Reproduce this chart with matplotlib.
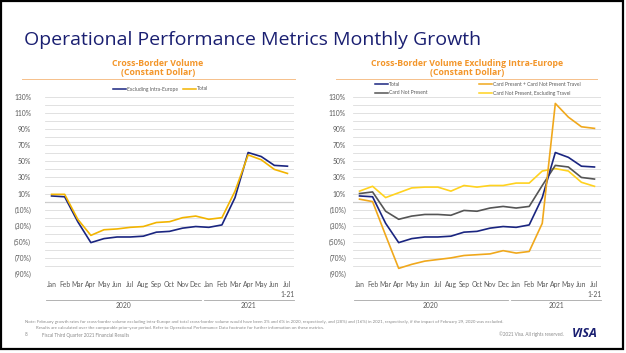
import numpy as np
import matplotlib
matplotlib.use('Agg')
import matplotlib.pyplot as plt
from matplotlib.lines import Line2D
from matplotlib.patches import Rectangle

plt.rcParams['font.family'] = ['Open Sans', 'DejaVu Sans']

# Datos (crecimiento mensual, %)
months = ['Jan', 'Feb', 'Mar', 'Apr', 'May', 'Jun', 'Jul', 'Aug', 'Sep', 'Oct', 'Nov', 'Dec',
          'Jan', 'Feb', 'Mar', 'Apr', 'May', 'Jun', 'Jul\n1-21']
years = ['2020', '2021']
left_excl_europe = [7, 6, -25, -51, -46, -44, -44, -43, -38, -37, -33, -31, -32, -29, 5, 61, 56, 45, 44]
left_total = [9, 9, -22, -42, -35, -34, -32, -31, -26, -25, -20, -18, -22, -20, 13, 58, 52, 40, 35]

right_total = [7, 6, -27, -51, -46, -44, -44, -43, -38, -37, -33, -31, -32, -29, 5, 61, 55, 44, 43]
right_cp_travel = [3, 0, -42, -83, -78, -74, -72, -70, -67, -66, -65, -61, -64, -62, -27, 122, 105, 93, 91]
right_cnp = [10, 12, -12, -22, -18, -16, -16, -17, -11, -12, -8, -6, -8, -6, 20, 45, 43, 30, 28]
right_cnp_ex_travel = [13, 19, 5, 11, 17, 18, 18, 13, 20, 18, 20, 20, 23, 23, 38, 41, 38, 24, 19]

NAVY = '#1a2580'
GOLD = '#f2b400'
ORANGE = '#f0a81c'
YELLOW = '#ffd21f'
GRAY = '#555555'
TITLE_ORANGE = '#f3962a'
TEXT = '#595959'
TICK_FONT = ['Lato', 'DejaVu Sans']

W, H = 626, 353
fig = plt.figure(figsize=(W / 100, H / 100), dpi=100)

def px(x, y):
    # pixel -> coordenadas de figura
    return x / W, 1 - y / H

# Titulo principal
fig.text(*px(24, 40), 'Operational Performance Metrics Monthly Growth', fontsize=14,
         color='#1a1f71', va='center', ha='left')

def setup_axes(x0, x1, ypad, title, title_cx, rule_x0, rule_x1, year_split):
    fx0, fy_top = px(x0, 97)
    fx1, fy_bot = px(x1, 274)
    ax = fig.add_axes([fx0, fy_bot, fx1 - fx0, fy_top - fy_bot])
    ax.set_xlim(-0.5, len(months) - 0.5)
    ax.set_ylim(-90, 130)
    ax.set_yticks(np.arange(-90, 131, 10))
    labels = []
    for v in np.arange(-90, 131, 10):
        if (v + 90) % 20 == 0:
            labels.append(f'({abs(v)}%)' if v < 0 else f'{v}%')
        else:
            labels.append('')
    ax.set_yticklabels(labels, family=TICK_FONT)
    ax.set_xticks(np.arange(len(months)))
    ax.set_xticklabels(months, linespacing=1.5, family=TICK_FONT)
    ax.tick_params(length=0, labelsize=4.9, labelcolor=TEXT)
    ax.tick_params(axis='x', pad=5)
    ax.tick_params(axis='y', pad=ypad)
    for s in ax.spines.values():
        s.set_visible(False)
    ax.grid(axis='y', color='#dcdcdc', linewidth=0.6)
    ax.axhline(0, color='#8c8c8c', linewidth=0.8, zorder=1)

    # subtitulo y regla naranja
    fig.text(*px(title_cx, 68), title, fontsize=6.3, fontweight='bold', color=TITLE_ORANGE,
             ha='center', va='center', linespacing=1.1)
    fig.add_artist(Line2D([rule_x0 / W, rule_x1 / W], [1 - 78.5 / H] * 2,
                          color='#f6c08a', linewidth=0.7))

    # agrupacion por anio
    trans = ax.get_xaxis_transform()
    spans = [(-0.45, year_split - 0.1), (year_split + 0.1, len(months) - 0.5)]
    for (a, b), yr in zip(spans, years):
        ax.plot([a, b], [-0.147, -0.147], transform=trans, color='#a6a6a6',
                linewidth=0.6, clip_on=False)
        ax.text((a + b) / 2, -0.178, yr, transform=trans, fontsize=4.9, color=TEXT,
                ha='center', va='center', family=TICK_FONT)
    return ax

def legend_entry(x, y, color, label):
    fig.add_artist(Line2D([x / W, (x + 13) / W], [1 - y / H] * 2, color=color, linewidth=1.1))
    fig.text((x + 14) / W, 1 - y / H, label, fontsize=3.6, color=TEXT, va='center', ha='left',
             family=TICK_FONT)

x = np.arange(len(months))

# Grafico izquierdo
ax1 = setup_axes(45, 294, 10, 'Cross-Border Volume\n(Constant Dollar)', 158, 22, 295, 11.5)
ax1.plot(x, left_excl_europe, color=NAVY, linewidth=1.2, zorder=3)
ax1.plot(x, left_total, color=GOLD, linewidth=1.2, zorder=3)
legend_entry(113, 89, NAVY, 'Excluding Intra-Europe')
legend_entry(183, 89, GOLD, 'Total')

# Grafico derecho
ax2 = setup_axes(353, 601, 5, 'Cross-Border Volume Excluding Intra-Europe\n(Constant Dollar)', 467, 336, 597, 11.5)
ax2.plot(x, right_cnp_ex_travel, color=YELLOW, linewidth=1.2, zorder=3)
ax2.plot(x, right_cnp, color=GRAY, linewidth=1.2, zorder=3)
ax2.plot(x, right_total, color=NAVY, linewidth=1.2, zorder=3)
ax2.plot(x, right_cp_travel, color=ORANGE, linewidth=1.2, zorder=3)
legend_entry(375, 84, NAVY, 'Total')
legend_entry(375, 93, GRAY, 'Card Not Present')
legend_entry(479, 84, ORANGE, 'Card Present + Card Not Present Travel')
legend_entry(479, 93, YELLOW, 'Card Not Present, Excluding Travel')

# Notas al pie
note1 = ('Note: February growth rates for cross-border volume excluding intra-Europe and total cross-border volume '
         'would have been 3% and 6% in 2020, respectively, and (28%) and (16%) in 2021, respectively, '
         'if the impact of February 29, 2020 was excluded.')
note2 = ('Results are calculated over the comparable prior-year period. Refer to Operational Performance Data '
         'footnote for further information on these metrics.')
foot = dict(color='#8a8a8a', va='center', family=TICK_FONT)
fig.text(*px(25, 322), note1, fontsize=3.2, **foot)
fig.text(*px(36, 327.5), note2, fontsize=3.2, **foot)
fig.text(*px(25, 335), '8', fontsize=3.3, **foot)
fig.text(*px(42, 335), 'Fiscal Third Quarter 2021 Financial Results', fontsize=3.3, **foot)
fig.text(*px(564, 334), '\u00a92021 Visa. All rights reserved.', fontsize=3.3, ha='right', **foot)
fig.text(*px(572, 333.5), 'VISA', fontsize=9, fontweight='bold', fontstyle='italic',
         color='#1a1f71', va='center', ha='left')

# Marco negro de la diapositiva
fig.add_artist(Rectangle((1 / W, 1 - 349 / H), 622 / W, 348 / H, transform=fig.transFigure,
                         fill=False, edgecolor='black', linewidth=1.6))

fig.savefig('out.png', dpi=100)
